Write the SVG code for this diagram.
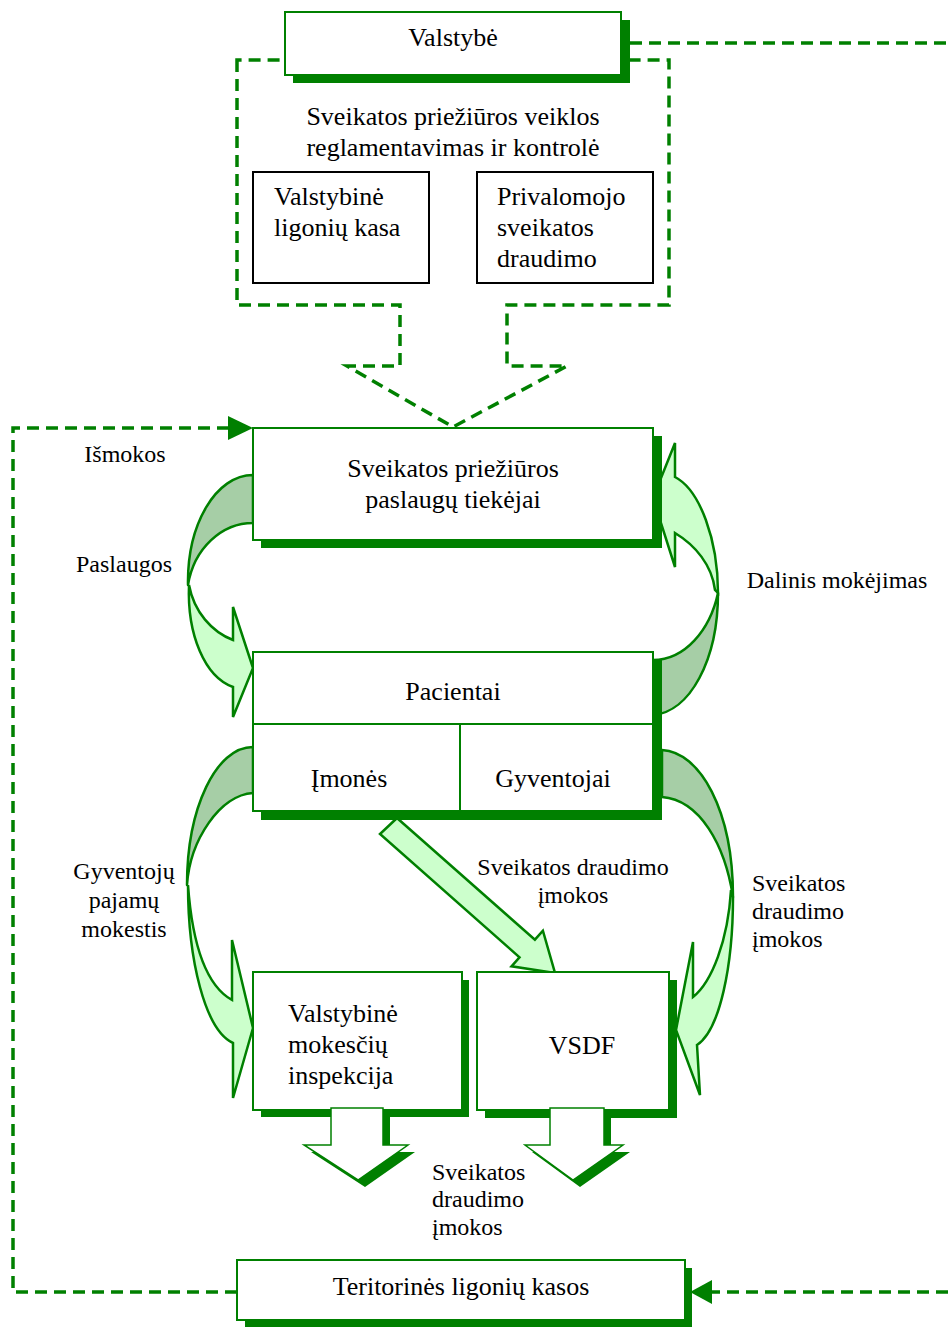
<svg xmlns="http://www.w3.org/2000/svg" width="948" height="1327" viewBox="0 0 948 1327">
<defs>
<style>
.t{font-family:"Liberation Serif","Times New Roman",serif;fill:#000}
.n{font-size:26px}
.l{font-size:24px}
.box{fill:#fff;stroke:#008000;stroke-width:2}
.blk{fill:#fff;stroke:#000;stroke-width:2}
.sh{fill:#008000}
.dash{fill:none;stroke:#008000;stroke-width:3.5;stroke-dasharray:12 7}
.dark{fill:#a6cea6;stroke:#008000;stroke-width:2.5;stroke-linejoin:round}
.light{fill:#ccffcc;stroke:#008000;stroke-width:2.5;stroke-linejoin:miter}
.hollow{fill:#fff;stroke:#008000;stroke-width:1.5}
</style>
</defs>
<rect width="948" height="1327" fill="#fff"/>

<g id="connectors">
  <path class="dash" d="M237,60 L237,305 L400,305 L400,366 L347,366 L453,427 L567,366 L507,366 L507,305 L669,305 L669,60 Z"/>
  <path class="dash" d="M630,43 L948,43"/>
  <path class="dash" d="M237,1292 L13,1292 L13,428 L230,428"/>
  <polygon class="sh" points="253,428 228,416 228,440"/>
  <path class="dash" d="M948,1292 L710,1292"/>
  <polygon class="sh" points="690,1292 712,1280 712,1304"/>
  <!-- Paslaugos -->
  <path class="light" d="M189,585 C187,635 205,677 233,687 L233,717 L253,668 L233,607 L233,640 C212,632 194,612 189,585 Z"/>
  <path class="dark" d="M253,475 C216,475 187,524 188,585 C194,548 222,523 253,523 Z"/>
  <!-- Dalinis mokejimas -->
  <path class="light" d="M718,593 C718,540 700,490 675,477 L675,443 L653,498 L675,567 L675,533 C695,545 712,565 715,590 Z"/>
  <path class="dark" d="M653,715 C690,712 718,660 718,593 C710,630 685,660 653,660 Z"/>
  <!-- Gyventoju pajamu mokestis -->
  <path class="light" d="M188,885 C188,960 205,1030 233,1043 L233,1098 L253,1028 L232,940 L232,1000 C205,985 192,940 188,885 Z"/>
  <path class="dark" d="M253,747 C216,747 187,808 187,885 C190,840 220,795 253,793 Z"/>
  <!-- right lower -->
  <path class="light" d="M733,897 C733,965 720,1030 697,1045 L700,1095 L676,1030 L693,942 L693,997 C712,982 728,940 731,890 Z"/>
  <path class="dark" d="M662,750 C700,752 733,810 733,897 C725,845 700,800 662,797 Z"/>
</g>

<g id="valstybe">
  <rect class="sh" x="293" y="20" width="337" height="63"/>
  <rect class="box" x="285" y="12" width="336" height="63"/>
  <text class="t n" x="453" y="46" text-anchor="middle">Valstybė</text>
</g>

<g id="reglamentavimas">
  <text class="t n" x="453" y="125" text-anchor="middle">Sveikatos priežiūros veiklos</text>
  <text class="t n" x="453" y="156" text-anchor="middle">reglamentavimas ir kontrolė</text>
</g>

<g id="vlk">
  <rect class="blk" x="253" y="172" width="176" height="111"/>
  <text class="t n" x="274" y="205">Valstybinė</text>
  <text class="t n" x="274" y="236">ligonių kasa</text>
</g>

<g id="psd">
  <rect class="blk" x="477" y="172" width="176" height="111"/>
  <text class="t n" x="497" y="205">Privalomojo</text>
  <text class="t n" x="497" y="236">sveikatos</text>
  <text class="t n" x="497" y="267">draudimo</text>
</g>

<g id="tiekejai">
  <rect class="sh" x="261" y="436" width="401" height="112"/>
  <rect class="box" x="253" y="428" width="400" height="112"/>
  <text class="t n" x="453" y="477" text-anchor="middle">Sveikatos priežiūros</text>
  <text class="t n" x="453" y="508" text-anchor="middle">paslaugų tiekėjai</text>
</g>

<g id="pacientai">
  <rect class="sh" x="261" y="660" width="401" height="160"/>
  <rect class="box" x="253" y="652" width="400" height="159"/>
  <line x1="253" y1="724" x2="653" y2="724" stroke="#008000" stroke-width="2"/>
  <line x1="460" y1="724" x2="460" y2="811" stroke="#008000" stroke-width="2"/>
  <text class="t n" x="453" y="700" text-anchor="middle">Pacientai</text>
  <text class="t n" x="349" y="787" text-anchor="middle">Įmonės</text>
  <text class="t n" x="553" y="787" text-anchor="middle">Gyventojai</text>
</g>

<g id="diag-arrow">
  <polygon class="light" points="397,818 534.9,939.7 542.9,930.7 555,973 511.5,966.3 519.5,957.3 380,834"/>
</g>

<g id="vmi">
  <rect class="sh" x="261" y="980" width="208" height="137"/>
  <rect class="box" x="253" y="972" width="209" height="138"/>
  <text class="t n" x="288" y="1022">Valstybinė</text>
  <text class="t n" x="288" y="1053">mokesčių</text>
  <text class="t n" x="288" y="1084">inspekcija</text>
  <polygon class="sh" points="338,1115 338,1152 311,1152 365,1187 415,1152 390,1152 390,1115"/>
  <polygon class="hollow" points="331,1108 331,1145 304,1145 358,1180 408,1145 383,1145 383,1108"/>
</g>

<g id="vsdf">
  <rect class="sh" x="485" y="980" width="192" height="138"/>
  <rect class="box" x="477" y="972" width="192" height="138"/>
  <text class="t n" x="582" y="1054" text-anchor="middle">VSDF</text>
  <polygon class="sh" points="557,1115 557,1152 532,1152 580,1187 630,1152 611,1152 611,1115"/>
  <polygon class="hollow" points="550,1108 550,1145 525,1145 573,1180 623,1145 604,1145 604,1108"/>
</g>

<g id="tlk">
  <rect class="sh" x="245" y="1268" width="447" height="59"/>
  <rect class="box" x="237" y="1260" width="448" height="60"/>
  <text class="t n" x="461" y="1295" text-anchor="middle">Teritorinės ligonių kasos</text>
</g>

<g id="labels">
  <text class="t l" x="125" y="462" text-anchor="middle">Išmokos</text>
  <text class="t l" x="124" y="572" text-anchor="middle">Paslaugos</text>
  <text class="t l" x="837" y="588" text-anchor="middle">Dalinis mokėjimas</text>
  <text class="t l" x="124" y="879" text-anchor="middle">Gyventojų</text>
  <text class="t l" x="124" y="908" text-anchor="middle">pajamų</text>
  <text class="t l" x="124" y="937" text-anchor="middle">mokestis</text>
  <text class="t l" x="573" y="875" text-anchor="middle">Sveikatos draudimo</text>
  <text class="t l" x="573" y="903" text-anchor="middle">įmokos</text>
  <text class="t l" x="752" y="891">Sveikatos</text>
  <text class="t l" x="752" y="919">draudimo</text>
  <text class="t l" x="752" y="947">įmokos</text>
  <text class="t l" x="432" y="1180">Sveikatos</text>
  <text class="t l" x="432" y="1207">draudimo</text>
  <text class="t l" x="432" y="1235">įmokos</text>
</g>
</svg>
